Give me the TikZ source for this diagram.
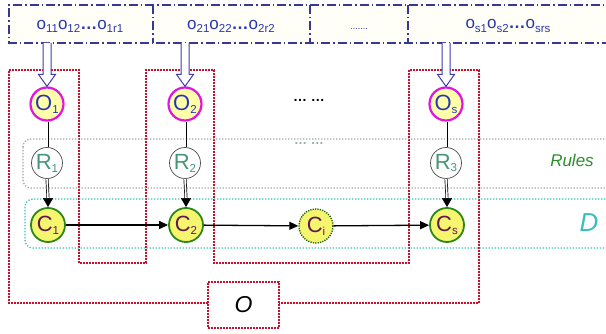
\documentclass[tikz,border=0pt]{standalone}
\usepackage{fontspec}
\setmainfont{Liberation Sans}
\usetikzlibrary{arrows.meta,calc}
\definecolor{redd}{RGB}{200,16,46}
\definecolor{grayd}{RGB}{165,165,165}
\definecolor{tealb}{RGB}{50,195,180}
\definecolor{dblue}{RGB}{55,55,150}
\definecolor{tblue}{RGB}{40,55,175}
\definecolor{hblue}{RGB}{60,60,175}
\definecolor{omag}{RGB}{225,20,225}
\definecolor{oyel}{RGB}{255,255,170}
\definecolor{cyel}{RGB}{245,245,110}
\definecolor{cgreen}{RGB}{45,135,25}
\definecolor{cpurp}{RGB}{95,25,80}
\definecolor{rgreen}{RGB}{70,150,120}
\definecolor{rulesg}{RGB}{45,140,45}
\definecolor{dteal}{RGB}{60,190,190}
\newcommand\osq[2]{#1\raisebox{-0.35ex}{\fontsize{11.5}{11.5}\selectfont #2}}
\newcommand\clab[2]{#1\raisebox{-0.25ex}{\fontsize{11.5}{11.5}\selectfont #2}}
\tikzset{
  reddot/.style={draw=redd, line width=1.6pt, dash pattern=on 1.6pt off 1.4pt},
  graydot/.style={draw=grayd, line width=1.3pt, dash pattern=on 1.3pt off 1.7pt},
  tealdot/.style={draw=tealb, line width=1.3pt, dash pattern=on 1.3pt off 1.7pt},
  dashdotb/.style={draw=dblue, line width=1.1pt, dash pattern=on 9pt off 3pt on 1.5pt off 3pt},
  otext/.style={text=tblue, font=\fontsize{17}{17}\selectfont, inner sep=0pt},
  ocirc/.style={circle, draw=omag, line width=2.2pt, fill=oyel, minimum size=33pt, inner sep=0pt, text=tblue, font=\fontsize{22}{22}\selectfont},
  rcirc/.style={circle, draw=black!70, line width=0.7pt, fill=white, minimum size=31pt, inner sep=0pt, text=rgreen, font=\fontsize{22}{22}\selectfont},
  ccirc/.style={circle, draw=cgreen, line width=1.8pt, fill=cyel, minimum size=34pt, inner sep=0pt, text=cpurp, font=\fontsize{22}{22}\selectfont},
  cicirc/.style={ccirc, draw=cgreen!70!black, dash pattern=on 1.2pt off 1.2pt, line width=1.4pt},
  harrow/.style={draw=hblue, line width=1pt, fill=white, line join=miter},
  dbl/.style={draw=black, double=white, double distance=1.6pt, line width=0.7pt},
  tipar/.style={line width=0.6pt, -{Triangle[length=9pt,width=10pt]}},
  harr/.style={line width=1.3pt, -{Triangle[length=9pt,width=8pt]}},
}
\begin{document}
\begin{tikzpicture}[x=1pt,y=-1pt]
\useasboundingbox (0,0) rectangle (606,334);
\clip (0,0) rectangle (606,334);
% red meander
\draw[reddot] (9,70) -- (79,70) -- (79,263) -- (146,263) -- (146,70) -- (214,70) -- (214,263)
  -- (409,263) -- (409,70) -- (479,70) -- (479,303) -- (9,303) -- cycle;
% Rules box
\draw[graydot, rounded corners=8pt] (23,139) rectangle (616,188);
% D box
\draw[tealdot, rounded corners=8pt] (25,199) rectangle (616,248);
% top box
\fill[yellow!3] (9,5) rectangle (616,43);
\draw[dashdotb] (616,5) -- (9,5) -- (9,43) -- (616,43);
\draw[dashdotb] (153,5) -- (153,43);
\draw[dashdotb] (310,5) -- (310,43);
\draw[dashdotb] (408,5) -- (408,43);
\coordinate (tb) at (0,43);
\node[otext] (t1) at (80,26) {\osq{o}{11}\osq{o}{12}\textbf{…}\osq{o}{1r1}};
\node[otext] (t2) at (231,26) {\osq{o}{21}\osq{o}{22}\textbf{…}\osq{o}{2r2}};
\node[otext, font=\fontsize{9}{9}\selectfont] (t3) at (359,29) {.......};
\node[otext] (t4) at (508,26) {\osq{o}{s1}\osq{o}{s2}\textbf{…}\osq{o}{srs}};
% nodes
\node[ocirc] (O1) at (47,104) {\clab{O}{1}};
\node[ocirc] (O2) at (185,104) {\clab{O}{2}};
\node[ocirc] (Os) at (446,104) {\clab{O}{s}};
\node[rcirc] (R1) at (47,163) {\clab{R}{1}};
\node[rcirc] (R2) at (185,163) {\clab{R}{2}};
\node[rcirc] (R3) at (446,163) {\clab{R}{3}};
\node[ccirc] (C1) at (48,225) {\clab{C}{1}};
\node[ccirc] (C2) at (186,225) {\clab{C}{2}};
\node[cicirc] (Ci) at (316,226) {\clab{C}{i}};
\node[ccirc] (Cs) at (447,225) {\clab{C}{s}};
\node[font=\fontsize{14}{14}\selectfont\bfseries, inner sep=0pt] (dots1) at (309,100) {… …};
\node[font=\fontsize{13}{13}\selectfont\bfseries, text=grayd!80!tealb, inner sep=0pt] (dots2) at (309,144) {… …};
\node[text=rulesg, font=\fontsize{17}{17}\selectfont\itshape, inner sep=0pt] (rules) at (572,160) {Rules};
\node[text=dteal, font=\fontsize{26}{26}\selectfont\itshape, inner sep=0pt] (D) at (589,223) {D};
\node[reddot, fill=white, minimum width=71pt, minimum height=46pt, inner sep=0pt, font=\fontsize{23}{23}\selectfont\itshape] (Ob) at (243.5,305) {O};
% hollow arrows
\foreach \n in {O1,O2,Os}{
  \draw[harrow] ($(\n|-tb)+(-4,0)$) -- ($(\n.north)+(-4,-12)$) -- ($(\n.north)+(-8.5,-12)$) -- (\n.north)
    -- ($(\n.north)+(8.5,-12)$) -- ($(\n.north)+(4,-12)$) -- ($(\n|-tb)+(4,0)$);
}
% vertical connectors
\foreach \a/\b/\c in {O1/R1/C1,O2/R2/C2,Os/R3/Cs}{
  \draw[dbl] (\a.south) -- (\b.north);
  \draw[dbl] (\b.south) -- ($(\c.north)+(0,-9)$);
  \draw[tipar] ($(\c.north)+(0,-9.5)$) -- (\c.north);
}
% horizontal arrows
\draw[harr] (C1) -- (C2);
\draw[harr] (C2) -- (Ci);
\draw[harr] (Ci) -- (Cs);
\end{tikzpicture}
\end{document}
